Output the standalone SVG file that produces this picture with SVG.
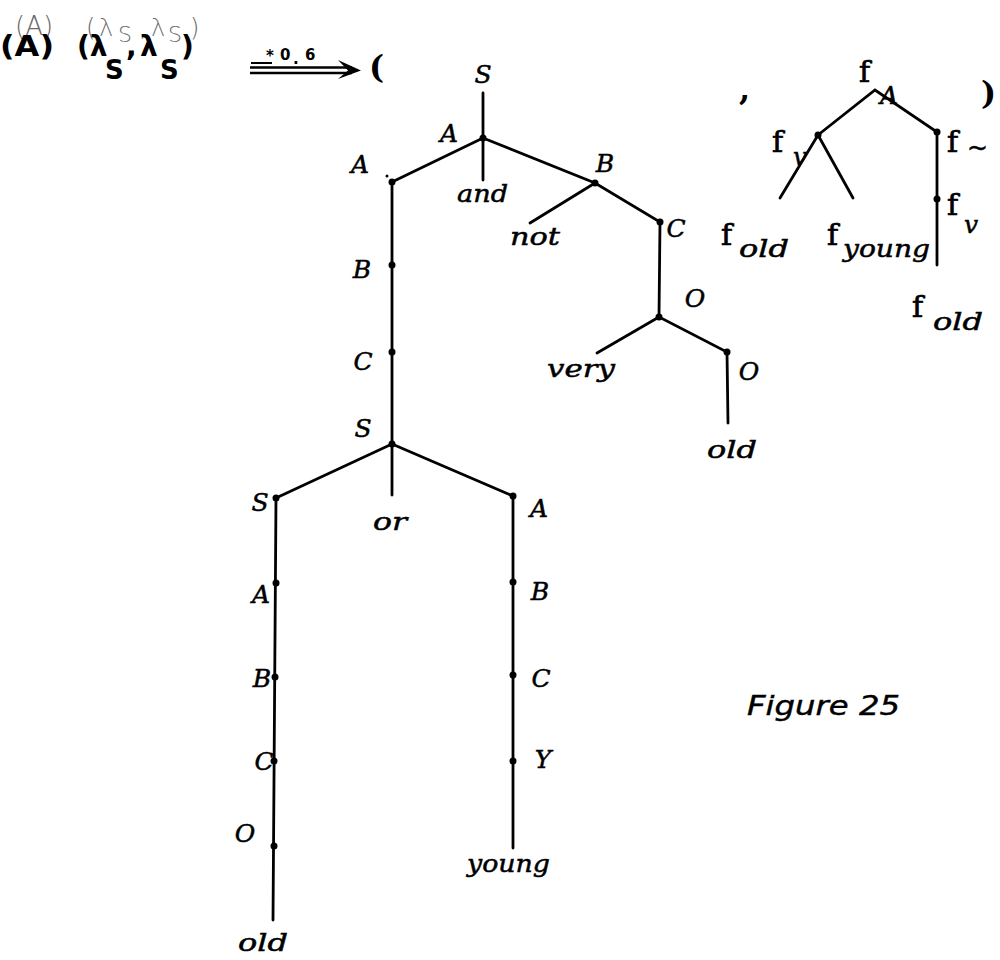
<svg xmlns="http://www.w3.org/2000/svg" width="1000" height="960" viewBox="0 0 1000 960">
<style>
.ln{stroke:#000;stroke-width:2.8;fill:none;stroke-linecap:round}
.dot{fill:#000}
.lab{font-family:"DejaVu Serif","Liberation Serif",serif;font-style:italic;font-size:25px;fill:#000;stroke:#000;stroke-width:0.5}
.mid{text-anchor:middle}
.f{font-family:"DejaVu Serif","Liberation Serif",serif;font-size:30px;fill:#000;stroke:#000;stroke-width:0.7}
.pn{font-family:"DejaVu Serif","Liberation Serif",serif;font-size:32px;font-weight:bold;fill:#000}
.sub{font-family:"DejaVu Serif","Liberation Serif",serif;font-style:italic;font-size:25px;fill:#000;stroke:#000;stroke-width:0.5}
.gray{font-family:"DejaVu Sans",sans-serif;font-weight:200;fill:#6a6a6a}
.bold{font-family:"DejaVu Sans",sans-serif;font-weight:bold;fill:#000}
</style>
<rect width="1000" height="960" fill="#fff"/>

<g id="header">
  <text class="gray" font-size="26" x="15" y="35">(A)</text>
  <text class="gray" font-size="24"><tspan x="86" y="36">(</tspan><tspan x="99" y="36">λ</tspan><tspan x="118" y="42" font-size="22">S</tspan><tspan x="139" y="36">,</tspan><tspan x="151" y="36">λ</tspan><tspan x="168" y="42" font-size="22">S</tspan><tspan x="190" y="36">)</tspan></text>
  <text class="bold" font-size="28" x="0" y="56" textLength="54" lengthAdjust="spacingAndGlyphs">(A)</text>
  <text class="bold" font-size="28"><tspan x="77" y="56">(λ</tspan><tspan x="105" y="79" font-size="26">S</tspan><tspan x="126" y="56">,</tspan><tspan x="140" y="56">λ</tspan><tspan x="160" y="79" font-size="26">S</tspan><tspan x="181" y="56">)</tspan></text>
</g>

<g id="arrow">
  <line x1="251" y1="63" x2="272" y2="63" stroke="#000" stroke-width="2"/>
  <text class="bold" font-size="15" x="266" y="61">*</text>
  <text class="bold" font-size="15" x="280" y="60">0</text>
  <text class="bold" font-size="15" x="293" y="64">.</text>
  <text class="bold" font-size="15" x="305" y="60">6</text>
  <line x1="250" y1="67.5" x2="352" y2="67.5" stroke="#000" stroke-width="2.4"/>
  <line x1="250" y1="73" x2="352" y2="73" stroke="#000" stroke-width="2.4"/>
  <path d="M338,60 L361,70.5 L338,79 L348,70.5 Z" fill="#000"/>
  <text class="pn" x="369" y="78">(</text>
</g>

<g id="connectors">
  <path class="ln" d="M483,93 L483,180"/>
  <path class="ln" d="M392,182 L483,138 L595,183 L660,222 L659,317 L727,352 L728,423"/>
  <path class="ln" d="M595,183 L530,223"/>
  <path class="ln" d="M659,317 L597,353"/>
  <path class="ln" d="M392,182 L392,444"/>
  <path class="ln" d="M276,498 L392,444 L513,496"/>
  <path class="ln" d="M392,444 L392,495"/>
  <path class="ln" d="M276,498 L273,920"/>
  <path class="ln" d="M513,496 L513,848"/>
  <path class="ln" d="M818,135 L875,90 L937,132 L937,265"/>
  <path class="ln" d="M818,135 L780,198"/>
  <path class="ln" d="M818,135 L853,198"/>
</g>

<g id="nodes">
  <g id="n-S-top"><text class="lab mid" x="483" y="83">S</text></g>
  <g id="n-A1"><circle class="dot" cx="483" cy="138" r="3.5"/><text class="lab mid" x="449" y="142">A</text></g>
  <g id="n-and"><text class="lab" x="457" y="202" textLength="51" lengthAdjust="spacingAndGlyphs">and</text></g>
  <g id="n-A2"><circle class="dot" cx="392" cy="182" r="3.5"/><circle class="dot" cx="387" cy="176" r="1.5"/><text class="lab mid" x="360" y="173">A</text></g>
  <g id="n-B1"><circle class="dot" cx="595" cy="183" r="3.5"/><text class="lab mid" x="605" y="172">B</text></g>
  <g id="n-not"><text class="lab" x="510" y="245" textLength="50" lengthAdjust="spacingAndGlyphs">not</text></g>
  <g id="n-C1"><circle class="dot" cx="660" cy="222" r="3.5"/><text class="lab mid" x="676" y="237">C</text></g>
  <g id="n-O1"><circle class="dot" cx="659" cy="317" r="3.5"/><text class="lab mid" x="695" y="307">O</text></g>
  <g id="n-very"><text class="lab" x="547" y="377" textLength="68" lengthAdjust="spacingAndGlyphs">very</text></g>
  <g id="n-O2"><circle class="dot" cx="727" cy="352" r="3.5"/><text class="lab mid" x="749" y="380">O</text></g>
  <g id="n-old1"><text class="lab" x="707" y="458" textLength="50" lengthAdjust="spacingAndGlyphs">old</text></g>
  <g id="n-B2"><circle class="dot" cx="392" cy="265" r="3.5"/><text class="lab mid" x="362" y="278">B</text></g>
  <g id="n-C2"><circle class="dot" cx="392" cy="352" r="3.5"/><text class="lab mid" x="363" y="370">C</text></g>
  <g id="n-S2"><circle class="dot" cx="392" cy="444" r="3.5"/><text class="lab mid" x="363" y="437">S</text></g>
  <g id="n-or"><text class="lab" x="373" y="530" textLength="34" lengthAdjust="spacingAndGlyphs">or</text></g>
  <g id="n-S3"><circle class="dot" cx="276" cy="498" r="3.5"/><text class="lab mid" x="260" y="511">S</text></g>
  <g id="n-A3"><circle class="dot" cx="276" cy="583" r="3.5"/><text class="lab mid" x="261" y="603">A</text></g>
  <g id="n-B3"><circle class="dot" cx="275" cy="677" r="3.5"/><text class="lab mid" x="262" y="687">B</text></g>
  <g id="n-C3"><circle class="dot" cx="274" cy="761" r="3.5"/><text class="lab mid" x="264" y="770">C</text></g>
  <g id="n-O3"><circle class="dot" cx="274" cy="846" r="3.5"/><text class="lab mid" x="245" y="842">O</text></g>
  <g id="n-old2"><text class="lab" x="238" y="951" textLength="50" lengthAdjust="spacingAndGlyphs">old</text></g>
  <g id="n-A4"><circle class="dot" cx="513" cy="496" r="3.5"/><text class="lab mid" x="539" y="517">A</text></g>
  <g id="n-B4"><circle class="dot" cx="513" cy="582" r="3.5"/><text class="lab mid" x="540" y="600">B</text></g>
  <g id="n-C4"><circle class="dot" cx="513" cy="675" r="3.5"/><text class="lab mid" x="541" y="687">C</text></g>
  <g id="n-Y"><circle class="dot" cx="513" cy="761" r="3.5"/><text class="lab mid" x="543" y="768">Y</text></g>
  <g id="n-young"><text class="lab" x="467" y="872" textLength="83" lengthAdjust="spacingAndGlyphs">young</text></g>

  <g id="r-comma"><text class="pn" x="739" y="100">,</text></g>
  <g id="r-fA"><text class="f" x="859" y="82">f</text><text class="sub" x="880" y="104">A</text></g>
  <g id="r-fv1"><circle class="dot" cx="818" cy="135" r="3.5"/><text class="f" x="772" y="152">f</text><text class="sub" x="793" y="165">v</text></g>
  <g id="r-ftilde"><circle class="dot" cx="937" cy="132" r="3.5"/><text class="f" x="947" y="152">f</text><text class="sub" x="967" y="156" font-size="20">~</text></g>
  <g id="r-fv2"><circle class="dot" cx="937" cy="199" r="3.5"/><text class="f" x="947" y="215">f</text><text class="sub" x="964" y="233">v</text></g>
  <g id="r-fold1"><text class="f" x="721" y="245">f</text><text class="sub" x="739" y="257" textLength="50" lengthAdjust="spacingAndGlyphs">old</text></g>
  <g id="r-fyoung"><text class="f" x="827" y="245">f</text><text class="sub" x="843" y="257" textLength="87" lengthAdjust="spacingAndGlyphs">young</text></g>
  <g id="r-fold2"><text class="f" x="912" y="317">f</text><text class="sub" x="933" y="330" textLength="50" lengthAdjust="spacingAndGlyphs">old</text></g>
  <g id="r-paren"><text class="pn" x="981" y="104">)</text></g>
</g>

<g id="caption">
  <text font-family="DejaVu Sans, sans-serif" font-style="italic" font-size="26" x="747" y="715" textLength="153" lengthAdjust="spacingAndGlyphs" stroke="#000" stroke-width="0.4">Figure 25</text>
</g>
</svg>
